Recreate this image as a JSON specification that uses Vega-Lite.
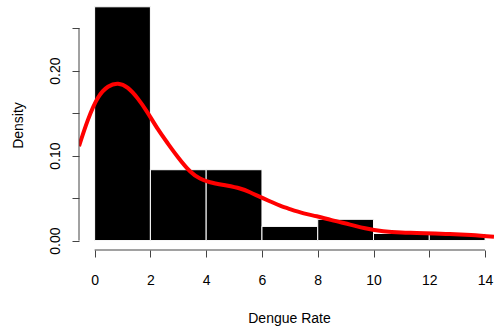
{
  "$schema": "https://vega.github.io/schema/vega-lite/v6.json",
  "width": 415,
  "height": 250,
  "autosize": {"type": "none"},
  "padding": {"left": 79, "top": 0, "right": 0, "bottom": 78},
  "background": "white",
  "config": {
    "view": {"stroke": null},
    "font": "Liberation Sans"
  },
  "datasets": {
    "bins": [
      {"start": 0, "end": 2, "count": 33, "density": 0.275},
      {"start": 2, "end": 4, "count": 10, "density": 0.08333},
      {"start": 4, "end": 6, "count": 10, "density": 0.08333},
      {"start": 6, "end": 8, "count": 2, "density": 0.01667},
      {"start": 8, "end": 10, "count": 3, "density": 0.025},
      {"start": 10, "end": 12, "count": 1, "density": 0.00833},
      {"start": 12, "end": 14, "count": 1, "density": 0.00833}
    ],
    "density": [
      {"rate": -0.56, "density": 0.111},
      {"rate": -0.24, "density": 0.142},
      {"rate": 0.12, "density": 0.168},
      {"rate": 0.48, "density": 0.181},
      {"rate": 0.84, "density": 0.1845},
      {"rate": 1.19, "density": 0.1796},
      {"rate": 1.55, "density": 0.167},
      {"rate": 1.91, "density": 0.150},
      {"rate": 2.27, "density": 0.131},
      {"rate": 2.63, "density": 0.114},
      {"rate": 2.99, "density": 0.098},
      {"rate": 3.42, "density": 0.0815},
      {"rate": 3.78, "density": 0.0729},
      {"rate": 4.14, "density": 0.0686},
      {"rate": 4.73, "density": 0.0647},
      {"rate": 5.21, "density": 0.0612},
      {"rate": 5.57, "density": 0.0568},
      {"rate": 5.93, "density": 0.0514},
      {"rate": 6.3, "density": 0.046},
      {"rate": 6.65, "density": 0.041},
      {"rate": 7.0, "density": 0.037},
      {"rate": 7.5, "density": 0.032},
      {"rate": 7.96, "density": 0.0286},
      {"rate": 8.5, "density": 0.024},
      {"rate": 9.16, "density": 0.0188},
      {"rate": 9.7, "density": 0.0145},
      {"rate": 10.35, "density": 0.011},
      {"rate": 11.0, "density": 0.0095},
      {"rate": 11.55, "density": 0.009},
      {"rate": 12.2, "density": 0.0083},
      {"rate": 12.74, "density": 0.0078},
      {"rate": 13.5, "density": 0.0065},
      {"rate": 14.32, "density": 0.0044}
    ]
  },
  "layer": [
    {
      "data": {"name": "bins"},
      "mark": {"type": "rect", "fill": "black", "stroke": "white", "strokeWidth": 1},
      "encoding": {
        "x": {
          "field": "start",
          "type": "quantitative",
          "scale": {"domain": [-0.56, 14.32], "nice": false, "zero": false},
          "axis": {
            "title": "Dengue Rate",
            "values": [0, 2, 4, 6, 8, 10, 12, 14],
            "domain": false,
            "grid": false,
            "tickSize": 7,
            "tickColor": "#444",
            "labelFontSize": 14,
            "labelColor": "black",
            "labelBaseline": "alphabetic",
            "labelPadding": 27,
            "labelFlush": false,
            "labelOverlap": false,
            "titleFontSize": 14,
            "titleFontWeight": "normal",
            "titleColor": "black",
            "titleX": 210,
            "titleY": 72,
            "titleAlign": "center",
            "titleBaseline": "alphabetic"
          }
        },
        "x2": {"field": "end"},
        "y": {
          "field": "density",
          "type": "quantitative",
          "scale": {"domain": [-0.0111, 0.283], "nice": false, "zero": false},
          "axis": {
            "title": "Density",
            "values": [0, 0.05, 0.1, 0.15, 0.2, 0.25],
            "labelExpr": "round(datum.value * 100) % 10 == 0 ? format(datum.value, '.2f') : ''",
            "domain": false,
            "grid": false,
            "tickSize": 7,
            "tickColor": "#444",
            "labelFontSize": 14,
            "labelColor": "black",
            "labelAngle": -90,
            "labelAlign": "center",
            "labelBaseline": "alphabetic",
            "labelPadding": 12.5,
            "labelFlush": false,
            "labelOverlap": false,
            "titleFontSize": 14,
            "titleFontWeight": "normal",
            "titleColor": "black",
            "titleAngle": -90,
            "titleAlign": "center",
            "titleBaseline": "alphabetic",
            "titleX": -57,
            "titleY": 125
          }
        },
        "y2": {"datum": 0}
      }
    },
    {
      "data": {"name": "density"},
      "mark": {"type": "line", "color": "#FF0000", "strokeWidth": 4, "interpolate": "natural", "clip": true},
      "encoding": {
        "x": {"field": "rate", "type": "quantitative"},
        "y": {"field": "density", "type": "quantitative"}
      }
    },
    {
      "data": {"values": [{}]},
      "mark": {"type": "rule", "color": "#444", "strokeWidth": 1},
      "encoding": {
        "x": {"datum": 0},
        "x2": {"datum": 14},
        "y": {"datum": -0.0111}
      }
    },
    {
      "data": {"values": [{}]},
      "mark": {"type": "rule", "color": "#444", "strokeWidth": 1},
      "encoding": {
        "x": {"datum": -0.56},
        "y": {"datum": 0},
        "y2": {"datum": 0.25}
      }
    }
  ]
}
